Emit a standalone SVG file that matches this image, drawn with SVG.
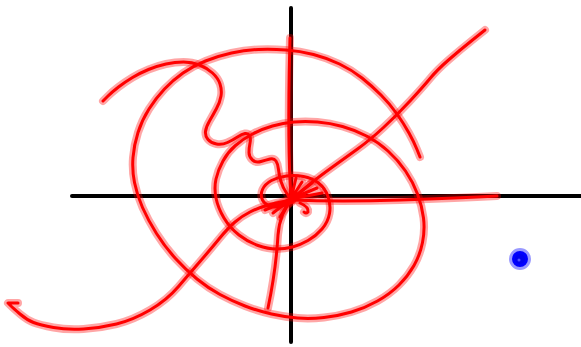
<svg xmlns="http://www.w3.org/2000/svg" width="581" height="347" viewBox="0 0 581 347">
<style>
.axis{fill:none;stroke:#000;stroke-width:4;stroke-linecap:round}
.halo{fill:none;stroke:#ff0000;stroke-opacity:0.35;stroke-width:8;stroke-linecap:round;stroke-linejoin:round}
.core{fill:none;stroke:#ff0000;stroke-width:3;stroke-linecap:round;stroke-linejoin:round}
.bhalo{fill:none;stroke:#0000ff;stroke-opacity:0.4;stroke-width:5}
.bcore{fill:#0000ee;stroke:#0000ff;stroke-width:3}
</style>
<defs>
<path id="spiral" d="M292,202 L285,205 Q278,208 271.5,206.5 Q265,205 262.5,200 Q260,195 262.5,189.5 Q265,184 271.5,180.5 Q278,177 286.5,176 Q295,175 303.5,176.5 Q312,178 318.5,183 Q325,188 328,196.5 Q331,205 329.5,213.5 Q328,222 322,229 Q316,236 308,240.5 Q300,245 292.5,247 Q285,249 276.5,249 Q268,249 258,245.5 Q248,242 239,235 Q230,228 224,218 Q218,208 216,198 Q214,188 216,179 Q218,170 223,161 Q228,152 235.5,145.5 Q243,139 252.5,134 Q262,129 272.5,126 Q283,123 294,122 Q305,121 317.5,122 Q330,123 342.5,126.5 Q355,130 366.5,136 Q378,142 388,151 Q398,160 405.5,171 Q413,182 417.5,194 Q422,206 423.5,218 Q425,230 422.5,242.5 Q420,255 414,265.5 Q408,276 399,285 Q390,294 377.5,301 Q365,308 351.5,312 Q338,316 324,317.5 Q310,319 297.5,318 Q285,317 271.5,314 Q258,311 245,306 Q232,301 220,294.5 Q208,288 197,279 Q186,270 175.5,258.5 Q165,247 156.5,233.5 Q148,220 142.5,207.5 Q137,195 134.5,182.5 Q132,170 133,157.5 Q134,145 138,132.5 Q142,120 149,109 Q156,98 164.5,89 Q173,80 183,73 Q193,66 205.5,61 Q218,56 231.5,53 Q245,50 258.5,49.5 Q272,49 286,50 Q300,51 313.5,54.5 Q327,58 339.5,64 Q352,70 362,78 Q372,86 381,95 Q390,104 397,114 Q404,124 409,133 Q414,142 417,149.5 L420,157"/>
<path id="squiggle" d="M103,101 L107.5,96.5 Q112,92 118.5,87 Q125,82 132.5,77.5 Q140,73 148.5,69.5 Q157,66 166,64 Q175,62 183.5,62 Q192,62 199.5,65 Q207,68 212.5,73 Q218,78 220,84 Q222,90 221,96 Q220,102 216.5,108.5 Q213,115 209.5,121 Q206,127 205.5,131.5 Q205,136 208,139.5 Q211,143 216.5,144 Q222,145 227.5,142.5 Q233,140 237.5,137 Q242,134 245,133.5 Q248,133 249.5,135.5 Q251,138 250,143 Q249,148 249,152.5 Q249,157 252.5,160 Q256,163 261,161.5 Q266,160 270,159 Q274,158 276,161 Q278,164 278.5,169.5 Q279,175 281,181.5 Q283,188 286.5,193 L290,198"/>
<path id="vert" d="M290,38 C289,80 287,140 291,198"/>
<path id="diag" d="M485,30 L472.5,40 Q460,50 448.5,60 Q437,70 430,78.5 Q423,87 410,101 Q397,115 383.5,127.5 Q370,140 357.5,149 Q345,158 332.5,167 Q320,176 312.5,182 Q305,188 298.5,194 L292,200"/>
<path id="horiz" d="M292,200 Q340,202 400,200 T497,196"/>
<path id="lower" d="M292,200 L283.5,201.5 Q275,203 266.5,205.5 Q258,208 250,212 Q242,216 235,222 Q228,228 219,239 Q210,250 200,261.5 Q190,273 178.5,286.5 Q167,300 150,310 Q133,320 116.5,324 Q100,328 83.5,329 Q67,330 53.5,327.5 Q40,325 33.5,322.5 Q27,320 20,314 Q13,308 10.5,305.5 L8,303 L18,303"/>
<path id="down" d="M292,200 Q280,212 278,235 Q276,270 268,308"/>
<path id="fan" d="M291,199 L302,182 M291,199 L312,183 M291,199 L317,188 M291,199 L322,193 M291,199 L296,178 M291,199 L265,210 M291,199 L273,213 M291,199 L280,217 M300,203 Q309,207 308,212 Q306,214 304,212"/>
</defs>
<g id="axes">
<line class="axis" x1="72" y1="196" x2="583" y2="196"/>
<line class="axis" x1="291" y1="8" x2="291" y2="342"/>
</g>
<g id="spiral-stroke"><use href="#spiral" class="halo"/><use href="#spiral" class="core"/></g>
<g id="squiggle-stroke"><use href="#squiggle" class="halo"/><use href="#squiggle" class="core"/></g>
<g id="vertical-stroke"><use href="#vert" class="halo"/><use href="#vert" class="core"/></g>
<g id="diagonal-stroke"><use href="#diag" class="halo"/><use href="#diag" class="core"/></g>
<g id="horizontal-stroke"><use href="#horiz" class="halo"/><use href="#horiz" class="core"/></g>
<g id="lower-stroke"><use href="#lower" class="halo"/><use href="#lower" class="core"/></g>
<g id="down-stroke"><use href="#down" class="halo"/><use href="#down" class="core"/></g>
<g id="center-fan"><use href="#fan" class="halo"/><use href="#fan" class="core"/></g>
<g id="blue-dot">
<circle class="bhalo" cx="520" cy="259" r="8.5"/>
<circle class="bcore" cx="520" cy="259" r="6.5"/>
<circle cx="519" cy="260" r="1.5" fill="#5050ff"/>
</g>
</svg>
